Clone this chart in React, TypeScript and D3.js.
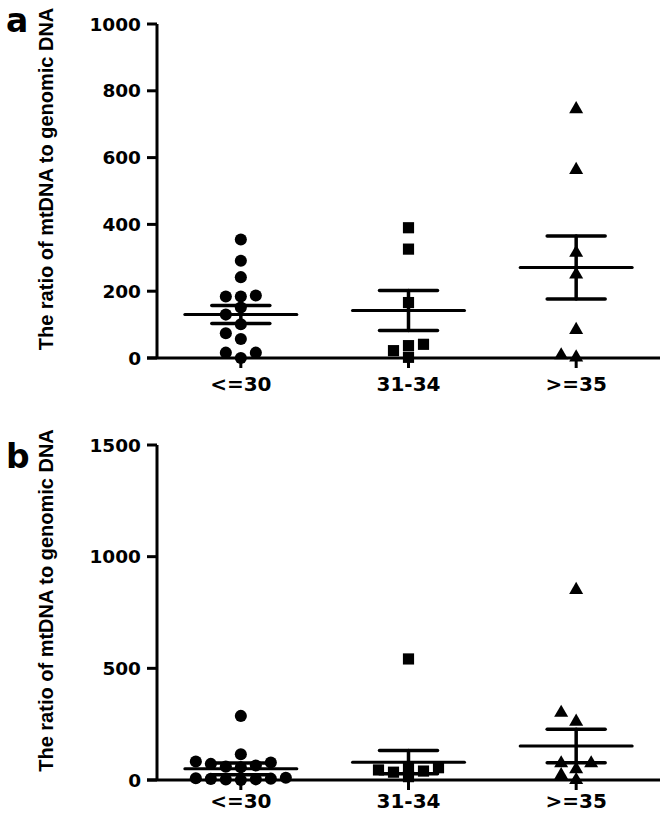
import React from "react";
import * as d3 from "d3";

const categories = ["<=30", "31-34", ">=35"];

const panelAValues: number[][] = [
  [355, 291, 242, 187, 184, 184, 151, 130, 101, 74, 57, 16, 16, 0],
  [390, 326, 166, 41, 37, 22, 2],
  [745, 563, 315, 250, 84, 8, 2],
];
const panelAMean = [130, 142, 271];
const panelASem = [27, 60, 94];
const panelATicks = [0, 200, 400, 600, 800, 1000];

const panelBValues: number[][] = [
  [287, 115, 83, 78, 72, 65, 60, 57, 10, 8, 6, 5, 3, 2, 0],
  [542, 60, 55, 45, 40, 35, 15],
  [851, 301, 261, 75, 75, 48, 22, 0],
];
const panelBMean = [50, 80, 152];
const panelBSem = [26, 52, 75];
const panelBTicks = [0, 500, 1000, 1500];

const symbolTypes = [d3.symbolCircle, d3.symbolSquare, d3.symbolTriangle];
const symbolSizes = [115, 125, 85];

const W = 666;
const H = 816;
const FONT = "'DejaVu Sans', sans-serif";
const LABEL_FONT = "'Liberation Sans', Arial, sans-serif";
const yLabelText = "The ratio of mtDNA to genomic DNA";

function swarm(values: number[], y: (v: number) => number, step: number, thr: number) {
  const sorted = values.map((v, i) => ({ v, i })).sort((a, b) => a.v - b.v);
  const placed: { slot: number; py: number }[] = [];
  const out: { v: number; dx: number; py: number }[] = [];
  const order = [0, -1, 1, -2, 2, -3, 3, -4, 4, -5, 5, -6, 6];
  for (const p of sorted) {
    const py = y(p.v);
    let chosen = 0;
    for (const s of order) {
      if (!placed.some((q) => q.slot === s && Math.abs(q.py - py) < thr)) {
        chosen = s;
        break;
      }
    }
    placed.push({ slot: chosen, py });
    out.push({ v: p.v, dx: chosen * step, py });
  }
  return out;
}

function Panel(props: {
  letter: string;
  values: number[][];
  means: number[];
  sems: number[];
  ticks: number[];
  yTop: number;
  yBottom: number;
  letterY: number;
  labelDy: number;
}) {
  const { letter, values, means, sems, ticks, yTop, yBottom, letterY, labelDy } = props;
  const axisX = 157;
  const xRight = 660;
  const x = d3.scaleBand<string>().domain(categories).range([axisX, xRight]);
  const cx = (c: string) => (x(c) as number) + x.bandwidth() / 2;
  const y = d3
    .scaleLinear()
    .domain([0, ticks[ticks.length - 1]])
    .range([yBottom, yTop]);
  const midY = (yTop + yBottom) / 2 - 12;
  return (
    <g>
      <text x={6} y={letterY} fontFamily={FONT} fontWeight="bold" fontSize={33}>
        {letter}
      </text>
      <text
        transform={`translate(${53},${midY}) rotate(-90)`}
        textAnchor="middle"
        fontFamily={LABEL_FONT}
        fontWeight="bold"
        fontSize={20}
      >
        {yLabelText}
      </text>
      <line x1={axisX} x2={axisX} y1={y(ticks[ticks.length - 1])} y2={yBottom} stroke="#000" strokeWidth={3} />
      <line x1={147} x2={xRight} y1={yBottom} y2={yBottom} stroke="#000" strokeWidth={3} />
      {ticks.map((t) => (
        <g key={t}>
          <line x1={147} x2={axisX} y1={y(t)} y2={y(t)} stroke="#000" strokeWidth={3} />
          <text
            x={141}
            y={y(t)}
            textAnchor="end"
            dominantBaseline="central"
            fontFamily={FONT}
            fontWeight="bold"
            fontSize={18.5}
          >
            {t}
          </text>
        </g>
      ))}
      {categories.map((c) => (
        <g key={c}>
          <line x1={cx(c)} x2={cx(c)} y1={yBottom} y2={yBottom + 10} stroke="#000" strokeWidth={3} />
          <text
            x={cx(c)}
            y={yBottom + labelDy}
            textAnchor="middle"
            fontFamily={FONT}
            fontWeight="bold"
            fontSize={20}
          >
            {c}
          </text>
        </g>
      ))}
      {categories.map((c, ci) => {
        const sym = d3.symbol().type(symbolTypes[ci]).size(symbolSizes[ci])();
        return swarm(values[ci], y, 15, 10).map((p, pi) => (
          <path
            key={`${c}-${pi}`}
            d={sym as string}
            transform={`translate(${cx(c) + p.dx},${p.py})`}
            fill="#000"
          />
        ));
      })}
      {categories.map((c, ci) => {
        const m = means[ci];
        const s = sems[ci];
        const X = cx(c);
        return (
          <g key={`e-${c}`} stroke="#000" strokeLinecap="round">
            <line x1={X - 56} x2={X + 56} y1={y(m)} y2={y(m)} strokeWidth={3} />
            <line x1={X} x2={X} y1={y(m + s)} y2={y(m - s)} strokeWidth={3.5} />
            <line x1={X - 29} x2={X + 29} y1={y(m + s)} y2={y(m + s)} strokeWidth={3.5} />
            <line x1={X - 29} x2={X + 29} y1={y(m - s)} y2={y(m - s)} strokeWidth={3.5} />
          </g>
        );
      })}
    </g>
  );
}

export default function App() {
  return (
    <svg
      width={W}
      height={H}
      style={{ position: "absolute", left: 0, top: 0, background: "#fff" }}
    >
      <rect width={W} height={H} fill="#fff" />
      <Panel
        letter="a"
        values={panelAValues}
        means={panelAMean}
        sems={panelASem}
        ticks={panelATicks}
        yTop={24}
        yBottom={358}
        letterY={32}
        labelDy={33}
      />
      <Panel
        letter="b"
        values={panelBValues}
        means={panelBMean}
        sems={panelBSem}
        ticks={panelBTicks}
        yTop={445}
        yBottom={780}
        letterY={468}
        labelDy={28}
      />
    </svg>
  );
}
